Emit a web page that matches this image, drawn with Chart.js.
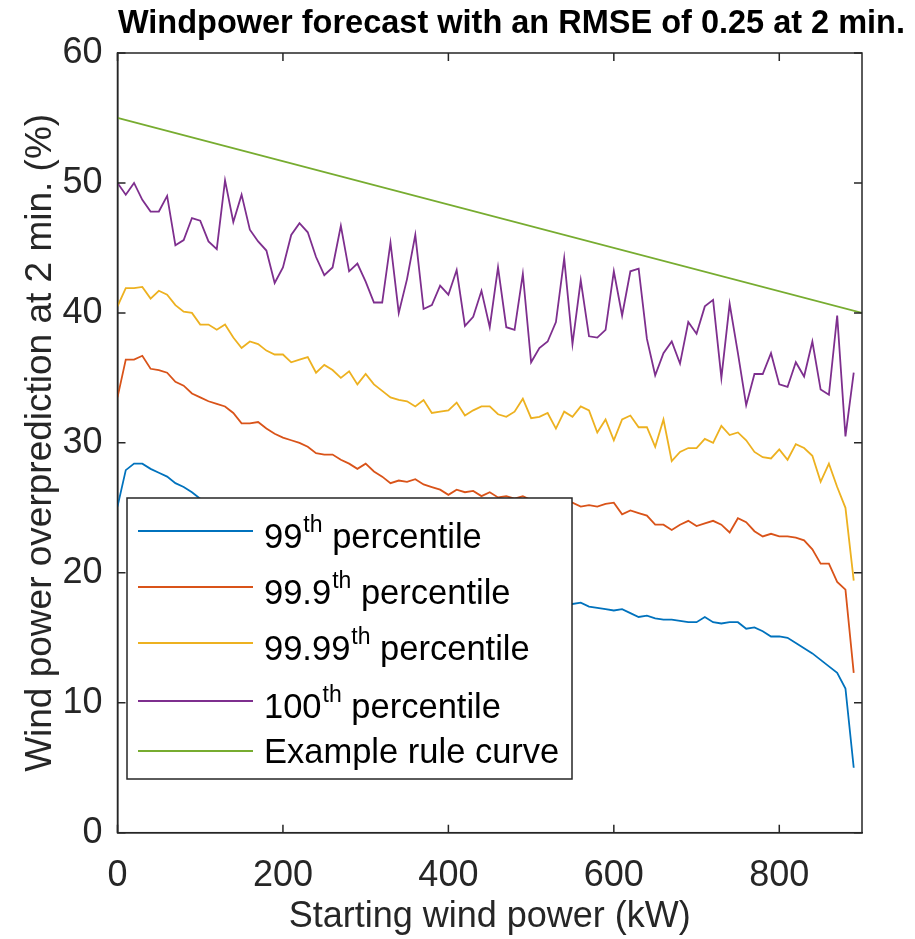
<!DOCTYPE html>
<html>
<head>
<meta charset="utf-8">
<title>Windpower forecast</title>
<script src="https://cdn.jsdelivr.net/npm/chart.js@4.4.1/dist/chart.umd.min.js"></script>
<style>
  html, body { margin: 0; padding: 0; background: #fff; }
  canvas { display: block; }
</style>
</head>
<body>
<canvas id="myChart" width="915" height="939"></canvas>
<script>
// starting wind power (kW)
const powerKW = [
  0, 10, 20, 30, 40, 50, 60, 70, 80, 90,
  100, 110, 120, 130, 140, 150, 160, 170, 180, 190,
  200, 210, 220, 230, 240, 250, 260, 270, 280, 290,
  300, 310, 320, 330, 340, 350, 360, 370, 380, 390,
  400, 410, 420, 430, 440, 450, 460, 470, 480, 490,
  500, 510, 520, 530, 540, 550, 560, 570, 580, 590,
  600, 610, 620, 630, 640, 650, 660, 670, 680, 690,
  700, 710, 720, 730, 740, 750, 760, 770, 780, 790,
  800, 810, 820, 830, 840, 850, 860, 870, 880, 890
];

// overprediction at 2 min (%)
const p99 = [
  25.1, 27.9, 28.4, 28.4, 28.0, 27.7, 27.4, 26.9, 26.6, 26.2,
  25.7, 25.2, 24.9, 24.6, 24.3, 24.0, 23.8, 23.5, 23.2, 23.0,
  22.7, 22.5, 22.2, 22.0, 21.8, 21.5, 21.3, 21.1, 20.9, 20.7,
  20.5, 20.3, 20.1, 19.9, 19.8, 19.6, 19.4, 19.3, 19.1, 19.0,
  18.9, 18.7, 18.6, 18.5, 18.4, 18.3, 18.2, 18.1, 18.0, 17.9,
  17.9, 17.8, 17.8, 17.7, 17.7, 17.6, 17.7, 17.4, 17.3, 17.2,
  17.1, 17.2, 16.9, 16.6, 16.7, 16.5, 16.4, 16.4, 16.3, 16.2,
  16.2, 16.6, 16.2, 16.1, 16.2, 16.2, 15.7, 15.8, 15.5, 15.1,
  15.1, 15.0, 14.6, 14.2, 13.8, 13.3, 12.8, 12.3, 11.1, 5.0
];
const p999 = [
  33.5, 36.4, 36.4, 36.7, 35.7, 35.6, 35.4, 34.7, 34.4, 33.8,
  33.5, 33.2, 33.0, 32.8, 32.3, 31.5, 31.5, 31.6, 31.1, 30.7,
  30.4, 30.2, 30.0, 29.7, 29.2, 29.1, 29.1, 28.7, 28.4, 28.0,
  28.4, 27.8, 27.4, 26.9, 27.1, 27.0, 27.2, 26.8, 26.6, 26.4,
  26.0, 26.4, 26.2, 26.3, 25.9, 26.2, 25.8, 25.9, 25.7, 25.9,
  25.6, 25.4, 25.5, 25.3, 25.4, 25.4, 25.1, 25.2, 25.1, 25.3,
  25.4, 24.5, 24.8, 24.6, 24.4, 23.7, 23.7, 23.3, 23.7, 24.0,
  23.6, 23.8, 24.0, 23.7, 23.1, 24.2, 23.9, 23.2, 22.8, 23.0,
  22.8, 22.8, 22.7, 22.5, 21.8, 20.7, 20.7, 19.3, 18.7, 12.3
];
const p9999 = [
  40.5, 41.9, 41.9, 42.0, 41.1, 41.7, 41.4, 40.6, 40.1, 40.0,
  39.1, 39.1, 38.7, 39.1, 38.1, 37.3, 37.8, 37.6, 37.1, 36.8,
  36.8, 36.2, 36.4, 36.6, 35.4, 36.0, 35.6, 35.0, 35.5, 34.5,
  35.3, 34.5, 34.0, 33.5, 33.3, 33.2, 32.8, 33.3, 32.3, 32.4,
  32.5, 33.1, 32.1, 32.5, 32.8, 32.8, 32.2, 32.0, 32.4, 33.4,
  31.9, 32.0, 32.3, 31.1, 32.4, 32.0, 32.8, 32.5, 30.8, 31.8,
  30.2, 31.8, 32.1, 31.2, 31.2, 29.7, 31.8, 28.6, 29.3, 29.6,
  29.6, 30.3, 30.0, 31.3, 30.6, 30.8, 30.2, 29.3, 28.9, 28.8,
  29.5, 28.7, 29.9, 29.6, 29.0, 27.0, 28.4, 26.6, 25.0, 19.4
];
const p100 = [
  50.0, 49.1, 50.0, 48.7, 47.8, 47.8, 49.0, 45.2, 45.6, 47.3,
  47.1, 45.5, 44.9, 50.2, 47.0, 49.1, 46.4, 45.5, 44.8, 42.3,
  43.5, 46.0, 46.9, 46.2, 44.3, 42.9, 43.5, 46.7, 43.2, 43.8,
  42.4, 40.8, 40.8, 45.4, 40.0, 42.6, 46.0, 40.3, 40.6, 42.1,
  41.4, 43.3, 39.0, 39.7, 41.7, 38.9, 43.5, 38.9, 38.7, 43.0,
  36.2, 37.3, 37.8, 39.3, 44.2, 37.6, 42.5, 38.2, 38.1, 38.7,
  43.2, 39.8, 43.2, 43.4, 38.0, 35.2, 36.9, 37.8, 36.1, 39.3,
  38.4, 40.5, 41.0, 35.0, 40.7, 36.9, 32.9, 35.3, 35.3, 36.9,
  34.5, 34.3, 36.2, 35.1, 37.8, 34.1, 33.7, 39.8, 30.5, 35.4
];

// example rule curve end points
const ruleKW = [0, 900];
const ruleCurve = [55, 40];

const xTicks = [0, 200, 400, 600, 800];
const yTicks = [0, 10, 20, 30, 40, 50, 60];

// legend text: [main, superscript, rest]
const legendLabels = [
  ['99', 'th', ' percentile'],
  ['99.9', 'th', ' percentile'],
  ['99.99', 'th', ' percentile'],
  ['100', 'th', ' percentile'],
  ['Example rule curve', '', '']
];

const FONT = "'Liberation Sans', Arial, Helvetica, sans-serif";
const AXIS = '#262626';

function toPoints(xs, ys) {
  return xs.map((x, i) => ({ x: x, y: ys[i] }));
}

function makeSet(label, xs, ys, color) {
  return {
    label: label,
    data: toPoints(xs, ys),
    borderColor: color,
    backgroundColor: color,
    borderWidth: 1.8,
    pointRadius: 0,
    tension: 0,
    fill: false,
    yAxisID: 'y'
  };
}

// MATLAB style box with inward ticks
const boxPlugin = {
  id: 'boxPlugin',
  afterDatasetsDraw(chart) {
    const { ctx, chartArea: a } = chart;
    const xs = chart.scales.x, ys = chart.scales.y;
    const len = 8;
    ctx.save();
    ctx.strokeStyle = AXIS;
    ctx.lineWidth = 1.5;
    ctx.strokeRect(a.left, a.top, a.right - a.left, a.bottom - a.top);
    ctx.beginPath();
    xTicks.forEach(v => {
      const px = xs.getPixelForValue(v);
      ctx.moveTo(px, a.bottom); ctx.lineTo(px, a.bottom - len);
      ctx.moveTo(px, a.top); ctx.lineTo(px, a.top + len);
    });
    yTicks.forEach(v => {
      const py = ys.getPixelForValue(v);
      ctx.moveTo(a.left, py); ctx.lineTo(a.left + len, py);
      ctx.moveTo(a.right, py); ctx.lineTo(a.right - len, py);
    });
    ctx.stroke();
    ctx.restore();
  }
};

// legend box inside the plot, drawn over the lines
const legendPlugin = {
  id: 'boxLegend',
  afterDatasetsDraw(chart) {
    const ctx = chart.ctx;
    const bx = 127, by = 498, bw = 445, bh = 281;
    const rowY = [531, 587, 643, 701, 751];
    ctx.save();
    ctx.fillStyle = '#ffffff';
    ctx.fillRect(bx, by, bw, bh);
    ctx.strokeStyle = AXIS;
    ctx.lineWidth = 1.5;
    ctx.strokeRect(bx, by, bw, bh);
    chart.data.datasets.forEach((ds, i) => {
      const y = rowY[i];
      ctx.strokeStyle = ds.borderColor;
      ctx.lineWidth = 1.8;
      ctx.beginPath();
      ctx.moveTo(138, y);
      ctx.lineTo(253, y);
      ctx.stroke();

      const parts = legendLabels[i];
      const base = parts[1] ? y + 17 : y + 12;
      let x = 264;
      ctx.fillStyle = '#000';
      ctx.textBaseline = 'alphabetic';
      ctx.textAlign = 'left';
      ctx.font = '34.5px ' + FONT;
      ctx.fillText(parts[0], x, base);
      x += ctx.measureText(parts[0]).width + 1;
      if (parts[1]) {
        ctx.font = '23px ' + FONT;
        ctx.fillText(parts[1], x, base - 16);
        x += ctx.measureText(parts[1]).width;
        ctx.font = '34.5px ' + FONT;
        ctx.fillText(parts[2], x, base);
      }
    });
    ctx.restore();
  }
};

const ctx = document.getElementById('myChart').getContext('2d');

new Chart(ctx, {
  type: 'line',
  data: {
    datasets: [
      makeSet('99th percentile', powerKW, p99, '#0072BD'),
      makeSet('99.9th percentile', powerKW, p999, '#D95319'),
      makeSet('99.99th percentile', powerKW, p9999, '#EDB120'),
      makeSet('100th percentile', powerKW, p100, '#7E2F8E'),
      makeSet('Example rule curve', ruleKW, ruleCurve, '#77AC30')
    ]
  },
  options: {
    responsive: false,
    animation: false,
    layout: { padding: { top: 0, right: 10, bottom: 0, left: 0 } },
    plugins: {
      legend: { display: false },
      tooltip: { enabled: false },
      title: {
        display: true,
        text: 'Windpower forecast with an RMSE of 0.25 at 2 min.',
        align: 'end',
        color: '#000',
        font: { family: FONT, size: 32.5, weight: 'bold' },
        padding: { top: 5, bottom: 9 }
      }
    },
    scales: {
      x: {
        type: 'linear',
        min: 0,
        max: 900,
        afterBuildTicks: s => { s.ticks = xTicks.map(v => ({ value: v })); },
        afterFit: s => { s.height = 106.3; },
        ticks: { color: AXIS, font: { family: FONT, size: 36 }, padding: 14, maxRotation: 0 },
        grid: { display: false },
        border: { display: true, color: AXIS, width: 1.5 },
        title: {
          display: true,
          text: 'Starting wind power (kW)',
          color: AXIS,
          font: { family: FONT, size: 36 },
          padding: { top: 0, bottom: 0 }
        }
      },
      y: {
        type: 'linear',
        min: 0,
        max: 60,
        afterBuildTicks: s => { s.ticks = yTicks.map(v => ({ value: v })); },
        afterFit: s => { s.width = 117.5; },
        ticks: { color: AXIS, font: { family: FONT, size: 36 }, padding: 7 },
        grid: { display: false },
        border: { display: true, color: AXIS, width: 1.5 },
        title: {
          display: true,
          text: 'Wind power overprediction at 2 min. (%)',
          color: AXIS,
          font: { family: FONT, size: 37 },
          padding: { top: 19, bottom: 0 }
        }
      },
      yr: {
        position: 'right',
        display: true,
        afterFit: s => { s.width = 43; },
        ticks: { display: false },
        grid: { display: false },
        border: { display: false }
      }
    }
  },
  plugins: [boxPlugin, legendPlugin]
});
</script>
</body>
</html>
